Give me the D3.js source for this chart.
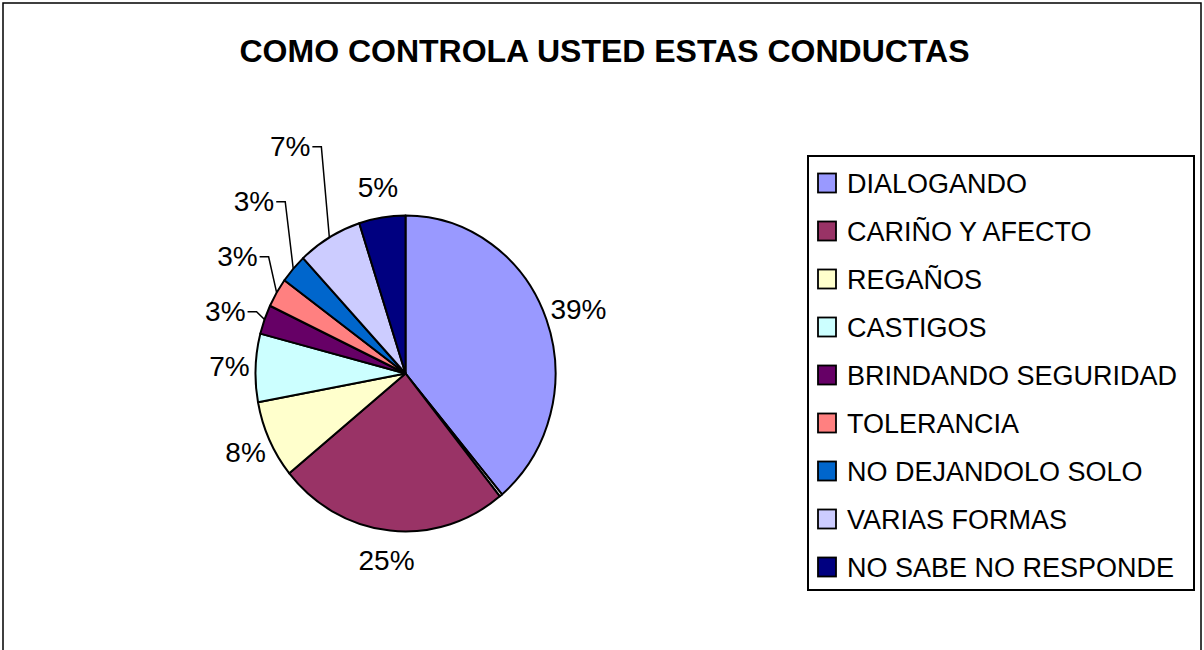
<!DOCTYPE html>
<html>
  <head>
    <meta charset="utf-8">
    <title>Como controla usted estas conductas</title>
    <script src="https://cdn.jsdelivr.net/npm/d3@7/dist/d3.min.js"></script>
    <style>
      body { margin: 0; background: #fff; }
      text { font-family: "Liberation Sans", Arial, sans-serif; fill: #000; }
    </style>
  </head>
  <body>
    <svg width="1204" height="650" id="mainsvg"></svg>
    <script>
      // data (the unnamed sliver sits between the first two slices)
      const categories = ['DIALOGANDO', '', 'CARIÑO Y AFECTO', 'REGAÑOS', 'CASTIGOS',
        'BRINDANDO SEGURIDAD', 'TOLERANCIA', 'NO DEJANDOLO SOLO', 'VARIAS FORMAS', 'NO SABE NO RESPONDE'];
      const values = [39, 0.3, 25, 8, 7, 3, 3, 3, 7, 5];
      const colors = ['#9999FF', '#FFFFFF', '#993366', '#FFFFCC', '#CCFFFF',
        '#660066', '#FF8080', '#0066CC', '#CCCCFF', '#000080'];
      const title = 'COMO CONTROLA USTED ESTAS CONDUCTAS';

      const data = categories.map((c, i) => ({name: c, value: values[i], color: colors[i]}));

      const svg = d3.select('#mainsvg');

      // chart frame
      svg.append('rect')
        .attr('x', 3).attr('y', 3).attr('width', 1198).attr('height', 680)
        .attr('fill', '#fff').attr('stroke', '#000').attr('stroke-width', 1.5);

      svg.append('text').text(title)
        .attr('x', 604.5).attr('y', 62)
        .attr('text-anchor', 'middle')
        .attr('font-size', '32px').attr('font-weight', 'bold');

      // pie (slightly taller than wide, like the original)
      const cx = 405.5, cy = 373.5, radius = 150, ky = 1.053;
      const total = d3.sum(values);
      const pie = d3.pie().value(d => d.value).sort(null);
      const arcs = pie(data);
      const arc = d3.arc().innerRadius(0).outerRadius(radius);

      const g = svg.append('g')
        .attr('transform', `translate(${cx}, ${cy}) scale(1, ${ky})`);
      g.selectAll('path').data(arcs).join('path')
        .attr('d', arc)
        .attr('fill', d => d.data.color)
        .attr('stroke', '#000')
        .attr('stroke-width', 2)
        .attr('stroke-linejoin', 'round')
        .attr('vector-effect', 'non-scaling-stroke');

      const pt = (a, r) => [cx + r * Math.sin(a), cy - r * Math.cos(a) * ky];

      // percentage labels
      const labels = svg.append('g');
      const gap = 55;
      let lastY = null;
      arcs.forEach(d => {
        const pct = Math.round(d.data.value / total * 100);
        if (pct < 1) return;
        const mid = (d.startAngle + d.endAngle) / 2;
        const s = Math.sin(mid), c = Math.cos(mid);
        const t = labels.append('text').text(pct + '%')
          .attr('font-size', '28px')
          .attr('dominant-baseline', 'central');
        const callout = s < -0.3 && c > 0.3;
        if (callout) {
          // stacked upward with a leader line
          const y = lastY - gap;
          const edge = pt(mid, radius);
          const elbowX = edge[0] - 8;
          labels.append('path')
            .attr('d', d3.line()([edge, [elbowX, y], [elbowX - 9, y]]))
            .attr('fill', 'none').attr('stroke', '#000').attr('stroke-width', 1.5);
          t.attr('text-anchor', 'end').attr('x', elbowX - 11).attr('y', y);
          lastY = y;
        } else {
          const w = t.node().getComputedTextLength();
          const a = pt(mid, 156);
          const y = a[1] - c * 24;
          t.attr('text-anchor', 'middle')
            .attr('x', a[0] + s * w / 2)
            .attr('y', y);
          lastY = y;
        }
      });

      // legend
      const legendItems = data.filter(d => d.name !== '');
      const legend = svg.append('g');
      legend.append('rect')
        .attr('x', 808).attr('y', 156).attr('width', 386).attr('height', 434)
        .attr('fill', '#fff').attr('stroke', '#000').attr('stroke-width', 2);
      const item = legend.selectAll('g.item').data(legendItems).join('g')
        .attr('class', 'item')
        .attr('transform', (d, i) => `translate(818, ${173.5 + i * 48})`);
      item.append('rect')
        .attr('width', 18).attr('height', 19)
        .attr('fill', d => d.color)
        .attr('stroke', '#000').attr('stroke-width', 1.8);
      item.append('text').text(d => d.name)
        .attr('x', 29).attr('y', 19.5)
        .attr('font-size', '27px');
    </script>
  </body>
</html>
